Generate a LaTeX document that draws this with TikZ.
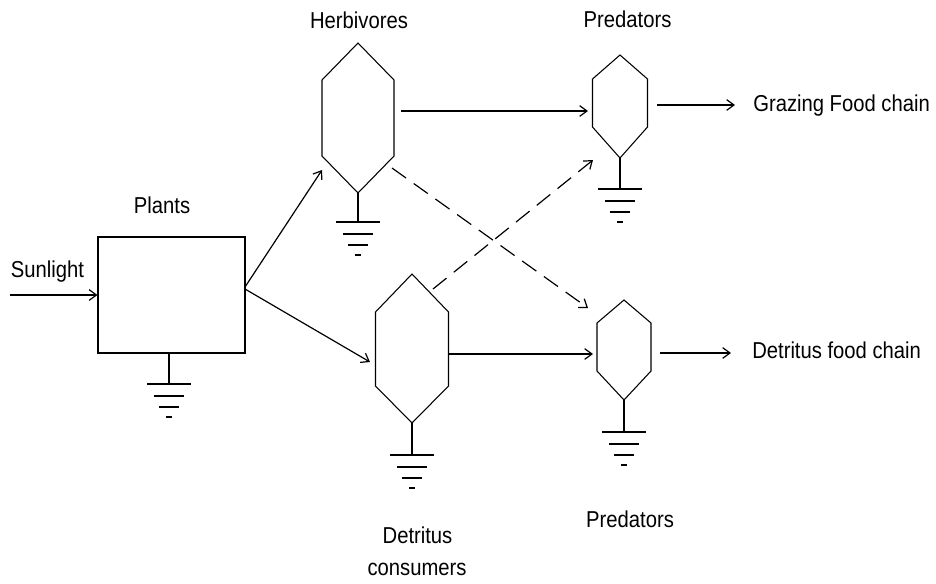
\documentclass[tikz,border=0pt]{standalone}
\usepackage{fontspec}
\setmainfont{Liberation Sans}[FakeStretch=0.88]
\usetikzlibrary{arrows.meta}
\newcommand\grnd[3]{%
  \draw[shape line] (#1,#2) -- (#1,#3);
  \draw[gline] (#1-22,#3) -- (#1+22,#3);
  \draw[gline] (#1-15,#3+12) -- (#1+15,#3+12);
  \draw[gline] (#1-10,#3+23) -- (#1+10,#3+23);
  \draw[gline] (#1-3,#3+33) -- (#1+3,#3+33);
}
% name, cx, top, s1, s2, bottom, half
\newcommand\hexa[7]{%
  \draw[shape line] (#2,#3) -- (#2+#7,#4) -- (#2+#7,#5) -- (#2,#6) -- (#2-#7,#5) -- (#2-#7,#4) -- cycle;
  \coordinate (#1-bot) at (#2,#6);
}
\begin{document}
\begin{tikzpicture}[x=0.75pt,y=-0.75pt,
  shape line/.style={line width=0.8pt,black},
  gline/.style={line width=1.1pt,black},
  conn/.style={line width=0.9pt,-{Straight Barb[length=5.5pt,width=8pt,line width=0.9pt]}},
  dconn/.style={conn,dash pattern=on 13pt off 7pt},
  lbl/.style={font=\fontsize{17.25pt}{20pt}\selectfont,anchor=base,inner sep=0pt}]
\useasboundingbox (0,0) rectangle (936,583);

% labels
\node[lbl] (tsun) at (47.5,277) {Sunlight};
\node[lbl] (tplants) at (162,213) {Plants};
\node[lbl] (therb) at (359,28) {Herbivores};
\node[lbl] (tpred1) at (627.5,27) {Predators};
\node[lbl] (tpred2) at (630,527) {Predators};
\node[lbl] (tdet1) at (417.5,543) {Detritus};
\node[lbl] (tdet2) at (417,575) {consumers};
\node[lbl,anchor=base west] (tgraz) at (753,111) {Grazing Food chain};
\node[lbl,anchor=base west] (tdfc) at (752,358) {Detritus food chain};

% plants box
\node[draw,line width=0.8pt,minimum width=147*0.75pt,minimum height=116*0.75pt,inner sep=0pt] (plants) at (171.5,295) {};
\grnd{169}{353}{384}

% hexagons
\hexa{herb}{358}{43}{80}{156}{193}{36}
\grnd{358}{193}{222}
\hexa{predA}{620}{55}{79}{127}{158}{27.5}
\grnd{620}{158}{189}
\hexa{det}{412}{274}{312}{386}{423}{36.5}
\grnd{412}{423}{455}
\hexa{predB}{624}{300}{323}{371}{400}{27}
\grnd{624}{400}{432}

% connection points
\coordinate (sunstart) at (10,295);
\coordinate (plantsR1) at (245,287);
\coordinate (plantsR2) at (245,289);
\coordinate (herbIn) at (322,170);
\coordinate (detIn) at (370,362);
\coordinate (herbOut) at (401,111);
\coordinate (predAIn) at (588,111);
\coordinate (herbDash) at (392,168);
\coordinate (predBDash) at (588,308);
\coordinate (detDash) at (433,289);
\coordinate (predADash) at (593,160);
\coordinate (detOut) at (449,354);
\coordinate (predBIn) at (593,354);
\coordinate (predAOut) at (657,105);
\coordinate (grazEnd) at (735,105);
\coordinate (predBOut) at (660,353);
\coordinate (dfcEnd) at (731,353);

\draw[conn] (sunstart) -- (plants.west);
\draw[conn] (plantsR1) -- (herbIn);
\draw[conn] (plantsR2) -- (detIn);
\draw[conn] (herbOut) -- (predAIn);
\draw[dconn] (herbDash) -- (predBDash);
\draw[dconn] (detDash) -- (predADash);
\draw[conn] (detOut) -- (predBIn);
\draw[conn] (predAOut) -- (grazEnd);
\draw[conn] (predBOut) -- (dfcEnd);
\end{tikzpicture}
\end{document}
